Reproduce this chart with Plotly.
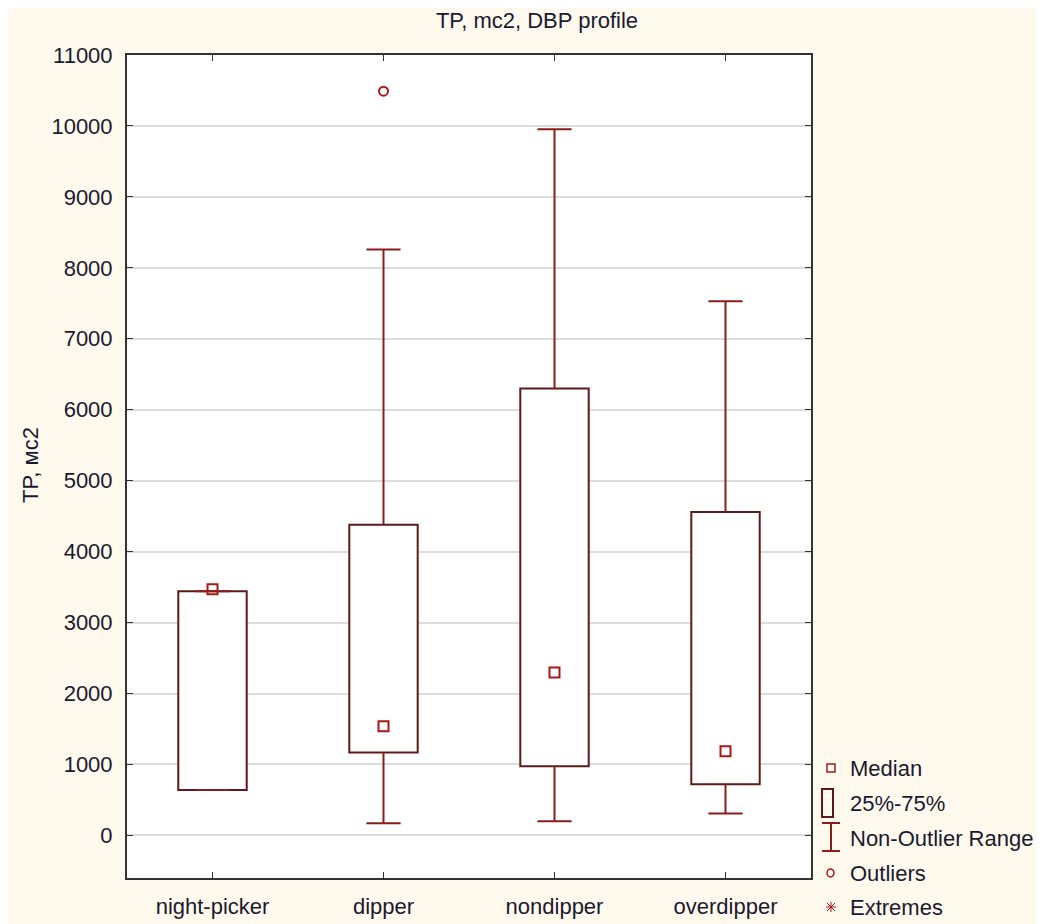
import plotly.graph_objects as go

categories = ["night-picker", "dipper", "nondipper", "overdipper"]
q1 = [640, 1170, 975, 720]
q3 = [3440, 4380, 6300, 4560]
median = [3470, 1540, 2295, 1185]
lower = [640, 170, 200, 310]
upper = [3440, 8260, 9955, 7530]
outlier_cat = [1]
outlier_val = [10490]

y_ticks = list(range(0, 11001, 1000))
y_ticktext = [str(v) for v in y_ticks]
legend_names = ["Median", "25%-75%", "Non-Outlier Range", "Outliers", "Extremes"]

BOX = "#5e1a1a"
WHISK = "#8b1c1c"
MED = "#a81818"
TXT = "#1a1a2e"
FONT = "Liberation Sans, Arial, sans-serif"

W, H = 1044, 924
L, R, T, B = 119, 241, 47, 54
PW, PH = W - L - R, H - T - B
OFF = 8  # page offset


def px(sx):
    return (sx - OFF - L) / PW


def py(sy):
    return (H - B - (sy - OFF)) / PH


xs = list(range(len(categories)))
cap = 0.1

wx, wy = [], []
for i in xs:
    wx += [i, i, None, i - cap, i + cap, None, i, i, None, i - cap, i + cap, None]
    wy += [q3[i], upper[i], None, upper[i], upper[i], None,
           q1[i], lower[i], None, lower[i], lower[i], None]

fig = go.Figure()
fig.add_trace(go.Scatter(x=wx, y=wy, mode="lines", line=dict(color=WHISK, width=2),
                         showlegend=False, hoverinfo="skip"))
fig.add_trace(go.Bar(x=xs, y=[b - a for a, b in zip(q1, q3)], base=q1, width=0.4,
                     marker=dict(color="white", line=dict(color=BOX, width=2)),
                     showlegend=False))
fig.add_trace(go.Scatter(x=xs, y=median, mode="markers",
                         marker=dict(symbol="square-open", size=10, color=MED, line=dict(width=2)),
                         showlegend=False))
fig.add_trace(go.Scatter(x=outlier_cat, y=outlier_val, mode="markers",
                         marker=dict(symbol="circle-open", size=9, color=MED, line=dict(width=2)),
                         showlegend=False))

# manual legend (outside plot area)
leg_y = [768, 803, 838, 873, 908]
shapes = []
ic = 831
# median icon
shapes.append(dict(type="rect", xref="paper", yref="paper", x0=px(827), x1=px(835),
                   y0=py(772), y1=py(764), line=dict(color=MED, width=1.5)))
# box icon
shapes.append(dict(type="rect", xref="paper", yref="paper", x0=px(822), x1=px(833),
                   y0=py(817), y1=py(789), line=dict(color=BOX, width=2)))
# non-outlier range icon
for (a, b, c, d) in [(822, 823, 840, 823), (822, 851, 840, 851), (ic, 823, ic, 851)]:
    shapes.append(dict(type="line", xref="paper", yref="paper", x0=px(a), y0=py(b),
                       x1=px(c), y1=py(d), line=dict(color=WHISK, width=2)))
# outlier icon
shapes.append(dict(type="circle", xref="paper", yref="paper", x0=px(827), x1=px(834),
                   y0=py(877), y1=py(869), line=dict(color=MED, width=1.5)))
# extremes icon (asterisk)
cy = 907
for (a, b, c, d) in [(ic - 4, cy - 4, ic + 4, cy + 4), (ic - 4, cy + 4, ic + 4, cy - 4),
                     (ic, cy - 5, ic, cy + 5), (ic - 5, cy, ic + 5, cy)]:
    shapes.append(dict(type="line", xref="paper", yref="paper", x0=px(a), y0=py(b),
                       x1=px(c), y1=py(d), line=dict(color=MED, width=1)))

annotations = []
for name, yy in zip(legend_names, leg_y):
    annotations.append(dict(text=name, xref="paper", yref="paper", x=px(848), y=py(yy),
                            xanchor="left", yanchor="middle", showarrow=False,
                            font=dict(size=22, color=TXT)))
annotations.append(dict(text="TP, мс2", xref="paper", yref="paper", x=px(30), y=py(465),
                        xanchor="center", yanchor="middle", textangle=-90, showarrow=False,
                        font=dict(size=22, color=TXT)))

fig.update_layout(
    width=W, height=H,
    paper_bgcolor="#fff9ee", plot_bgcolor="white",
    margin=dict(l=L, r=R, t=T, b=B),
    barmode="overlay",
    font=dict(family=FONT, size=22, color=TXT),
    title=dict(text="TP, mc2, DBP profile", x=(537 - OFF) / W, xref="container",
               xanchor="center", y=1 - (20 - OFF) / H, yanchor="middle",
               font=dict(size=22, color=TXT)),
    showlegend=False,
    shapes=shapes,
    annotations=annotations,
)
fig.update_xaxes(range=[-0.5, 3.5], tickvals=xs, ticktext=categories,
                 showgrid=False, zeroline=False, ticks="inside", ticklen=6,
                 tickcolor="#333", showline=True, linecolor="#333", linewidth=2,
                 mirror="ticks", tickfont=dict(size=22, color=TXT), ticklabelstandoff=8)
fig.update_yaxes(range=[-600, 11000], tickvals=y_ticks, ticktext=y_ticktext, showgrid=True,
                 gridcolor="#dcdcdc", gridwidth=2, zeroline=False,
                 ticks="inside", ticklen=6, tickcolor="#333",
                 showline=True, linecolor="#333", linewidth=2, mirror="ticks",
                 tickfont=dict(size=22, color=TXT), ticklabelstandoff=8)

fig.write_html("out.html")
